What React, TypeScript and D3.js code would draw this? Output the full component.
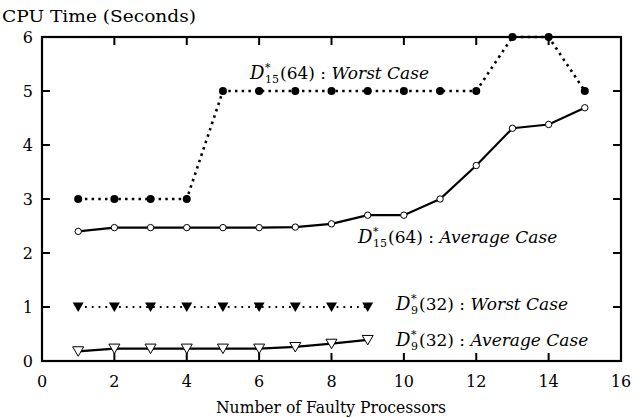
import React from "react";
import * as d3 from "d3";

const xs15 = [1, 2, 3, 4, 5, 6, 7, 8, 9, 10, 11, 12, 13, 14, 15];
const worst15 = [3, 3, 3, 3, 5, 5, 5, 5, 5, 5, 5, 5, 6, 6, 5];
const avg15 = [2.4, 2.47, 2.47, 2.47, 2.47, 2.47, 2.48, 2.54, 2.7, 2.7, 3.0, 3.62, 4.31, 4.38, 4.69];
const xs9 = [1, 2, 3, 4, 5, 6, 7, 8, 9];
const worst9 = [1, 1, 1, 1, 1, 1, 1, 1, 1];
const avg9 = [0.18, 0.23, 0.23, 0.23, 0.23, 0.23, 0.26, 0.32, 0.39];
const xTicks = [0, 2, 4, 6, 8, 10, 12, 14, 16];
const yTicks = [0, 1, 2, 3, 4, 5, 6];
const yTitle = "CPU Time (Seconds)";
const xTitle = "Number of Faulty Processors";

const W = 643, H = 418;
const L = 42, R = 621, T = 37, B = 361;
const FONT = "DejaVu Serif";

function Label({ x, y, sub, arg, text }: { x: number; y: number; sub: string; arg: string; text: string }) {
  const subW = sub.length * 7;
  return (
    <g fontFamily={FONT} fill="#000">
      <text x={x} y={y} fontSize={18} fontStyle="italic">D</text>
      <text x={x + 15} y={y - 8} fontSize={11}>*</text>
      <text x={x + 15} y={y + 4} fontSize={11}>{sub}</text>
      <text x={x + 16 + subW} y={y} fontSize={17}>
        {arg} :{" "}
        <tspan fontStyle="italic">{text}</tspan>
      </text>
    </g>
  );
}

export default function App() {
  const x = d3.scaleLinear().domain([0, 16]).range([L, R]);
  const y = d3.scaleLinear().domain([0, 6]).range([B, T]);
  const line = d3.line<[number, number]>().x((d) => x(d[0])).y((d) => y(d[1]));
  const w15 = xs15.map((v, i) => [v, worst15[i]] as [number, number]);
  const a15 = xs15.map((v, i) => [v, avg15[i]] as [number, number]);
  const w9 = xs9.map((v, i) => [v, worst9[i]] as [number, number]);
  const a9 = xs9.map((v, i) => [v, avg9[i]] as [number, number]);
  const tri = (cx: number, cy: number) =>
    `M${cx - 5.5},${cy - 4.5}L${cx + 5.5},${cy - 4.5}L${cx},${cy + 5}Z`;
  const tk = 8;

  return (
    <svg width={W} height={H} style={{ position: "absolute", left: 0, top: 0, background: "#fff" }}>
      <rect x={0} y={0} width={W} height={H} fill="#fff" />
      {xTicks.slice(1, -1).map((t) => (
        <g key={"xt" + t} stroke="#000" strokeWidth={2}>
          <line x1={x(t)} x2={x(t)} y1={B} y2={B - tk} />
          <line x1={x(t)} x2={x(t)} y1={T} y2={T + tk} />
        </g>
      ))}
      {yTicks.slice(1, -1).map((t) => (
        <g key={"yt" + t} stroke="#000" strokeWidth={2}>
          <line x1={L} x2={L + tk} y1={y(t)} y2={y(t)} />
          <line x1={R} x2={R - tk} y1={y(t)} y2={y(t)} />
        </g>
      ))}
      <rect x={L} y={T} width={R - L} height={B - T} fill="none" stroke="#000" strokeWidth={2.2} />
      {xTicks.map((t) => (
        <text key={"xl" + t} x={x(t)} y={387} textAnchor="middle" fontFamily={FONT} fontSize={16}>
          {t}
        </text>
      ))}
      {yTicks.map((t) => (
        <text key={"yl" + t} x={33} y={y(t) + 6} textAnchor="end" fontFamily={FONT} fontSize={16}>
          {t}
        </text>
      ))}
      <text x={2} y={22} fontFamily={FONT} fontSize={16} textLength={194} lengthAdjust="spacingAndGlyphs">{yTitle}</text>
      <text x={216} y={413} fontFamily={FONT} fontSize={16} textLength={230} lengthAdjust="spacingAndGlyphs">{xTitle}</text>

      <path d={line(w15) || ""} fill="none" stroke="#000" strokeWidth={2.6} strokeDasharray="2.5,4.2" />
      {w15.map((d, i) => (
        <circle key={"w15" + i} cx={x(d[0])} cy={y(d[1])} r={4} fill="#000" />
      ))}
      <path d={line(a15) || ""} fill="none" stroke="#000" strokeWidth={2.2} />
      {a15.map((d, i) => (
        <circle key={"a15" + i} cx={x(d[0])} cy={y(d[1])} r={3.2} fill="#fff" stroke="#000" strokeWidth={1} />
      ))}
      <path d={line(w9) || ""} fill="none" stroke="#000" strokeWidth={1.8} strokeDasharray="1.8,5" />
      {w9.map((d, i) => (
        <path key={"w9" + i} d={tri(x(d[0]), y(d[1]))} fill="#000" />
      ))}
      <path d={line(a9) || ""} fill="none" stroke="#000" strokeWidth={2.2} />
      {a9.map((d, i) => (
        <path key={"a9" + i} d={tri(x(d[0]), y(d[1]))} fill="#fff" stroke="#000" strokeWidth={1} />
      ))}

      <Label x={250} y={79} sub="15" arg="(64)" text="Worst Case" />
      <Label x={358} y={243} sub="15" arg="(64)" text="Average Case" />
      <Label x={396} y={310} sub="9" arg="(32)" text="Worst Case" />
      <Label x={396} y={346} sub="9" arg="(32)" text="Average Case" />
    </svg>
  );
}
